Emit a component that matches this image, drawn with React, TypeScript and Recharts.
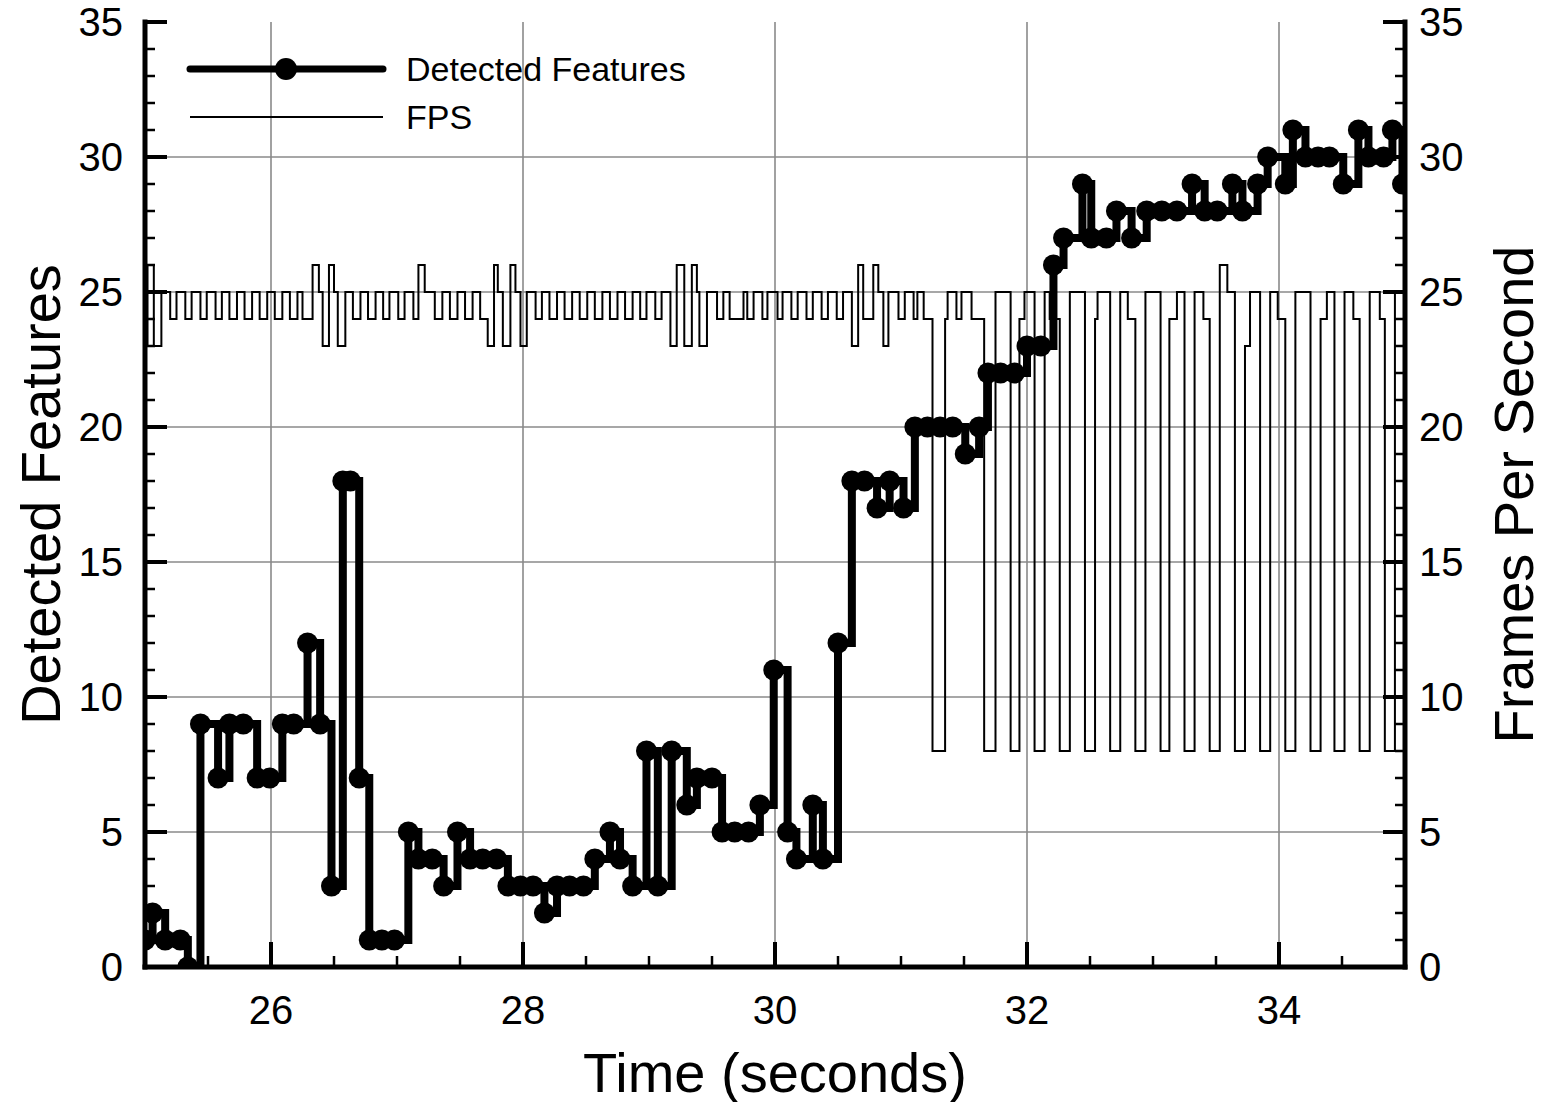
import React from "react";
import {
  LineChart,
  Line,
  XAxis,
  YAxis,
  ReferenceLine,
  Legend,
} from "recharts";

// Detected features per frame (step series)
const featTime = [
  25.0, 25.06, 25.16, 25.28, 25.34, 25.44, 25.58, 25.67, 25.78, 25.89,
  25.99, 26.09, 26.18, 26.29, 26.39, 26.48, 26.57, 26.63, 26.7, 26.78,
  26.88, 26.98, 27.09, 27.17, 27.28, 27.37, 27.48, 27.58, 27.68, 27.79,
  27.88, 27.98, 28.08, 28.17, 28.27, 28.37, 28.48, 28.57, 28.69, 28.77,
  28.87, 28.98, 29.07, 29.18, 29.3, 29.38, 29.5, 29.58, 29.68, 29.79,
  29.88, 29.99, 30.1, 30.17, 30.3, 30.38, 30.5, 30.61, 30.71, 30.81,
  30.91, 31.02, 31.11, 31.21, 31.31, 31.41, 31.51, 31.62, 31.69, 31.79,
  31.9, 32.0, 32.11, 32.21, 32.29, 32.44, 32.51, 32.63, 32.71, 32.83,
  32.95, 33.07, 33.19, 33.31, 33.41, 33.51, 33.63, 33.71, 33.83, 33.91,
  34.05, 34.11, 34.21, 34.31, 34.4, 34.51, 34.63, 34.71, 34.83, 34.9,
  34.98,
];
const featValue = [
  1, 2, 1, 1, 0, 9, 7, 9, 9, 7,
  7, 9, 9, 12, 9, 3, 18, 18, 7, 1,
  1, 1, 5, 4, 4, 3, 5, 4, 4, 4,
  3, 3, 3, 2, 3, 3, 3, 4, 5, 4,
  3, 8, 3, 8, 6, 7, 7, 5, 5, 5,
  6, 11, 5, 4, 6, 4, 12, 18, 18, 17,
  18, 17, 20, 20, 20, 20, 19, 20, 22, 22,
  22, 23, 23, 26, 27, 29, 27, 27, 28, 27,
  28, 28, 28, 29, 28, 28, 29, 28, 29, 30,
  29, 31, 30, 30, 30, 29, 31, 30, 30, 31,
  29,
];

// frames per second (step series)
const fpsTime = [
  25.0, 25.02, 25.07, 25.13, 25.2, 25.25, 25.32, 25.37, 25.44, 25.49,
  25.56, 25.61, 25.67, 25.73, 25.79, 25.85, 25.91, 25.97, 26.03, 26.09,
  26.15, 26.21, 26.25, 26.33, 26.38, 26.41, 26.46, 26.5, 26.53, 26.59,
  26.65, 26.71, 26.77, 26.83, 26.89, 26.94, 27.01, 27.06, 27.13, 27.17,
  27.22, 27.3, 27.36, 27.42, 27.48, 27.54, 27.6, 27.66, 27.72, 27.77,
  27.8, 27.84, 27.9, 27.94, 27.98, 28.03, 28.1, 28.15, 28.21, 28.27,
  28.33, 28.39, 28.45, 28.51, 28.57, 28.63, 28.69, 28.75, 28.81, 28.87,
  28.93, 28.98, 29.05, 29.1, 29.17, 29.22, 29.28, 29.34, 29.38, 29.4,
  29.46, 29.54, 29.59, 29.64, 29.75, 29.78, 29.83, 29.9, 29.94, 30.02,
  30.06, 30.13, 30.18, 30.25, 30.3, 30.37, 30.42, 30.49, 30.54, 30.61,
  30.66, 30.7, 30.78, 30.82, 30.86, 30.9, 30.98, 31.03, 31.1, 31.13,
  31.18, 31.25, 31.35, 31.37, 31.44, 31.48, 31.56, 31.66, 31.75, 31.87,
  31.94, 31.98, 32.06, 32.14, 32.18, 32.26, 32.34, 32.46, 32.54, 32.56,
  32.66, 32.74, 32.8, 32.86, 32.94, 33.06, 33.13, 33.19, 33.25, 33.33,
  33.4, 33.45, 33.53, 33.59, 33.65, 33.73, 33.77, 33.85, 33.93, 33.99,
  34.05, 34.13, 34.25, 34.33, 34.38, 34.44, 34.52, 34.59, 34.64, 34.72,
  34.8, 34.84, 34.92, 35.0,
];
const fpsValue = [
  23, 26, 23, 25, 24, 25, 24, 25, 24, 25,
  24, 25, 24, 25, 24, 25, 24, 25, 24, 25,
  24, 25, 24, 26, 25, 23, 26, 25, 23, 25,
  24, 25, 24, 25, 24, 25, 24, 25, 24, 26,
  25, 24, 25, 24, 25, 24, 25, 24, 23, 26,
  25, 23, 26, 25, 23, 25, 24, 25, 24, 25,
  24, 25, 24, 25, 24, 25, 24, 25, 24, 25,
  24, 25, 24, 25, 23, 26, 23, 26, 25, 23,
  25, 24, 25, 24, 25, 24, 25, 24, 25, 24,
  25, 24, 25, 24, 25, 24, 25, 24, 25, 23,
  26, 24, 26, 25, 23, 25, 24, 25, 24, 25,
  24, 8, 24, 25, 24, 25, 24, 8, 25, 8,
  24, 25, 8, 25, 24, 8, 25, 8, 24, 25,
  8, 25, 24, 8, 25, 8, 24, 25, 8, 25,
  24, 8, 26, 25, 8, 23, 25, 8, 25, 24,
  8, 25, 8, 24, 25, 8, 25, 24, 8, 25,
  24, 8, 25, 25,
];

const xTicks = [
  25, 25.5, 26, 26.5, 27, 27.5, 28, 28.5, 29, 29.5, 30,
  30.5, 31, 31.5, 32, 32.5, 33, 33.5, 34, 34.5, 35,
];
const xLabels = [26, 28, 30, 32, 34];
const yTicks = [
  0, 1, 2, 3, 4, 5, 6, 7, 8, 9, 10, 11, 12, 13, 14, 15, 16, 17,
  18, 19, 20, 21, 22, 23, 24, 25, 26, 27, 28, 29, 30, 31, 32, 33, 34, 35,
];
const yLabels = [0, 5, 10, 15, 20, 25, 30, 35];
const xGrid = [26, 28, 30, 32, 34];
const yGrid = [5, 10, 15, 20, 25, 30];

const featData = featTime.map((t, i) => ({ t, v: featValue[i] }));
const fpsData = fpsTime.map((t, i) => ({ t, v: fpsValue[i] }));

const FONT = "'Liberation Sans', Arial, Helvetica, sans-serif";
const frame = { stroke: "#000", strokeWidth: 5, strokeLinecap: "square" as const };

const BottomTick = (props: any) => {
  const { x, y, payload } = props;
  const major = xLabels.includes(payload.value);
  return (
    <g>
      <line
        x1={x}
        y1={y}
        x2={x}
        y2={y - (major ? 25 : 11)}
        stroke="#000"
        strokeWidth={major ? 4 : 2.5}
      />
      {major && (
        <text x={x} y={y + 57} textAnchor="middle" fontSize={40} fontFamily={FONT} fill="#000">
          {payload.value}
        </text>
      )}
    </g>
  );
};

const LeftTick = (props: any) => {
  const { x, y, payload } = props;
  const major = yLabels.includes(payload.value);
  return (
    <g>
      <line x1={x} y1={y} x2={x + (major ? 22 : 10)} y2={y} stroke="#000" strokeWidth={major ? 4 : 2.5} />
      {major && (
        <text x={x - 22} y={y} dy="0.36em" textAnchor="end" fontSize={40} fontFamily={FONT} fill="#000">
          {payload.value}
        </text>
      )}
    </g>
  );
};

const RightTick = (props: any) => {
  const { x, y, payload } = props;
  const major = yLabels.includes(payload.value);
  return (
    <g>
      <line x1={x} y1={y} x2={x - (major ? 22 : 10)} y2={y} stroke="#000" strokeWidth={major ? 4 : 2.5} />
      {major && (
        <text x={x + 14} y={y} dy="0.36em" textAnchor="start" fontSize={40} fontFamily={FONT} fill="#000">
          {payload.value}
        </text>
      )}
    </g>
  );
};

const VTitle = (text: string, dx: number) => (props: any) => {
  const { viewBox } = props;
  const cx = viewBox.x + dx;
  const cy = viewBox.y + viewBox.height / 2;
  return (
    <text
      x={cx}
      y={cy}
      transform={`rotate(-90, ${cx}, ${cy})`}
      textAnchor="middle"
      dominantBaseline="central"
      fontSize={56}
      fontFamily={FONT}
      fill="#000"
    >
      {text}
    </text>
  );
};

const XTitle = (props: any) => {
  const { viewBox } = props;
  return (
    <text
      x={viewBox.x + viewBox.width / 2}
      y={viewBox.y + 105}
      textAnchor="middle"
      dominantBaseline="central"
      fontSize={56}
      fontFamily={FONT}
      fill="#000"
    >
      Time (seconds)
    </text>
  );
};

const renderLegend = () => (
  <div style={{ fontFamily: FONT, fontSize: 34, color: "#000", lineHeight: 1 }}>
    <div style={{ display: "flex", alignItems: "center", height: 48 }}>
      <svg width={220} height={24}>
        <line x1={4} y1={12} x2={197} y2={12} stroke="#000" strokeWidth={7} strokeLinecap="round" />
        <circle cx={100} cy={12} r={11} fill="#000" />
      </svg>
      <span>Detected Features</span>
    </div>
    <div style={{ display: "flex", alignItems: "center", height: 48 }}>
      <svg width={220} height={24}>
        <line x1={4} y1={12} x2={197} y2={12} stroke="#000" strokeWidth={2} />
      </svg>
      <span>FPS</span>
    </div>
  </div>
);

const App = () => {
  return (
    <div style={{ position: "absolute", left: 0, top: 0, width: 1543, height: 1102, background: "#fff" }}>
      <LineChart width={1543} height={1102} margin={{ top: 22, right: 0, bottom: 0, left: 0 }}>
        <XAxis
          dataKey="t"
          type="number"
          domain={[25, 35]}
          allowDataOverflow
          ticks={xTicks}
          interval={0}
          height={135}
          tickSize={0}
          tickMargin={0}
          tickLine={false}
          axisLine={frame}
          tick={<BottomTick />}
          label={XTitle}
        />
        <XAxis
          xAxisId="top"
          orientation="top"
          dataKey="t"
          type="number"
          domain={[25, 35]}
          allowDataOverflow
          height={0}
          tick={false}
          tickLine={false}
          axisLine={frame}
        />
        <YAxis
          yAxisId="left"
          type="number"
          domain={[0, 35]}
          allowDataOverflow
          ticks={yTicks}
          interval={0}
          width={145}
          tickSize={0}
          tickMargin={0}
          tickLine={false}
          axisLine={frame}
          tick={<LeftTick />}
          label={VTitle("Detected Features", 40)}
        />
        <YAxis
          yAxisId="right"
          orientation="right"
          type="number"
          domain={[0, 35]}
          allowDataOverflow
          ticks={yTicks}
          interval={0}
          width={138}
          tickSize={0}
          tickMargin={0}
          tickLine={false}
          axisLine={frame}
          tick={<RightTick />}
          label={VTitle("Frames Per Second", 108)}
        />
        {xGrid.map((v) => (
          <ReferenceLine key={"gx" + v} x={v} yAxisId="left" stroke="#8a8a8a" strokeWidth={1.6} />
        ))}
        {yGrid.map((v) => (
          <ReferenceLine key={"gy" + v} y={v} yAxisId="left" stroke="#8a8a8a" strokeWidth={1.6} />
        ))}
        <Legend
          layout="vertical"
          align="center"
          verticalAlign="middle"
          content={renderLegend}
          wrapperStyle={{ top: 45, left: 186, width: 560 }}
        />
        <Line
          data={fpsData}
          dataKey="v"
          name="FPS"
          yAxisId="right"
          type="stepAfter"
          stroke="#000"
          strokeWidth={2}
          dot={false}
          activeDot={false}
          isAnimationActive={false}
        />
        <Line
          data={featData}
          dataKey="v"
          name="Detected Features"
          yAxisId="left"
          type="stepAfter"
          stroke="#000"
          strokeWidth={8}
          dot={{ r: 10.5, fill: "#000", stroke: "#000", strokeWidth: 0 }}
          activeDot={false}
          isAnimationActive={false}
        />
      </LineChart>
    </div>
  );
};

export default App;
